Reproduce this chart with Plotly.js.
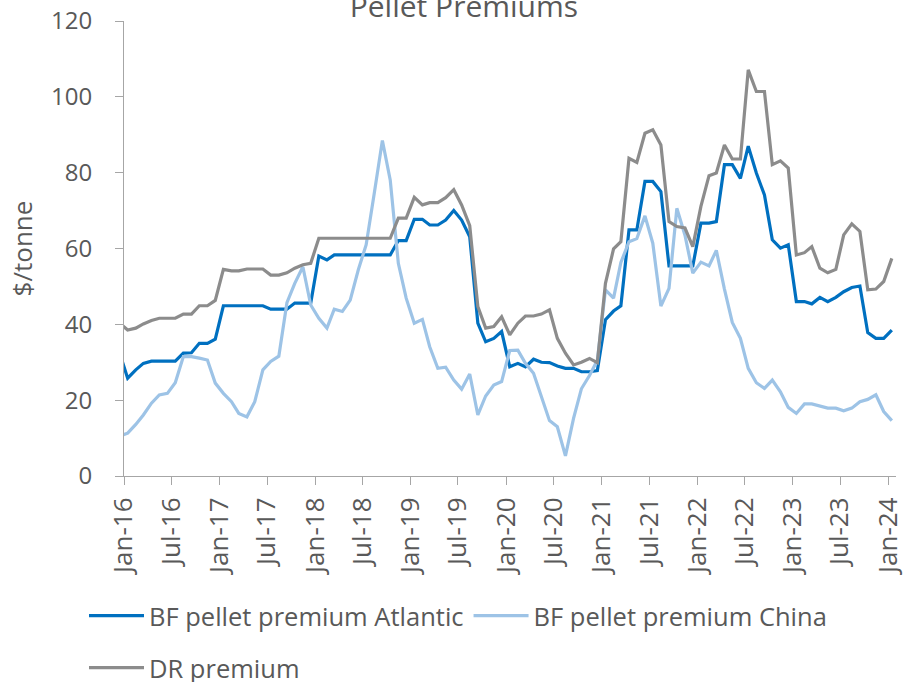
<!DOCTYPE html>
<html>
<head>
<meta charset="utf-8">
<script src="https://cdn.plot.ly/plotly-3.0.1.min.js"></script>
<style>
html,body{margin:0;padding:0;background:#fff;}
#chart{width:915px;height:682px;}
</style>
</head>
<body>
<div id="chart"></div>
<script>
// Monthly observations, first month Dec-2015 (clipped by the axis), last Jan-2024
var startYear = 2015, startMonth = 12;

var atlantic = [32.5,
  25.8,28.0,29.7,30.3,30.3,30.3,30.3,32.4,32.5,35.0,35.0,36.1,
  44.9,44.9,44.9,44.9,44.9,44.9,44.0,44.0,44.0,45.6,45.6,45.6,
  58.0,57.0,58.3,58.3,58.3,58.3,58.3,58.3,58.3,58.3,62.1,62.1,
  67.7,67.7,66.2,66.2,67.5,70.0,67.5,63.1,40.3,35.4,36.3,38.1,
  28.8,29.7,28.8,30.8,30.0,29.9,29.0,28.4,28.4,27.5,27.5,27.8,
  41.2,43.5,44.9,64.9,64.9,77.7,77.7,75.0,55.4,55.4,55.4,55.4,
  66.7,66.7,67.1,82.1,82.1,78.5,87.0,79.9,74.1,62.3,60.1,61.0,
  46.0,46.0,45.4,47.1,46.0,47.1,48.6,49.7,50.1,37.8,36.3,36.3,38.5];

var china = [10.5,
  11.3,13.6,16.1,19.2,21.4,21.8,24.6,31.5,31.5,31.1,30.6,24.5,
  21.8,19.6,16.5,15.6,19.6,28.0,30.2,31.6,45.7,50.8,55.2,45.1,
  41.6,39.0,44.0,43.4,46.4,54.4,61.0,74.6,88.5,78.1,56.1,46.9,
  40.3,41.3,34.1,28.4,28.7,25.3,22.9,26.9,16.1,21.1,24.0,24.9,
  33.1,33.2,29.7,27.1,20.9,14.6,13.0,5.3,15.2,23.0,26.5,30.5,
  49.1,46.9,56.3,61.8,62.6,68.6,61.4,44.8,49.5,70.6,63.5,53.5,
  56.4,55.4,59.5,49.3,40.5,36.3,28.4,24.6,23.1,25.3,22.2,18.1,
  16.5,19.0,19.0,18.5,17.9,17.9,17.2,17.9,19.6,20.2,21.4,17.0,14.6];

var drPremium = [40.4,
  38.5,39.0,40.1,41.0,41.6,41.6,41.6,42.7,42.7,44.9,44.9,46.3,
  54.5,54.1,54.1,54.6,54.6,54.6,53.0,53.0,53.6,54.8,55.7,56.1,
  62.7,62.7,62.7,62.7,62.7,62.7,62.7,62.7,62.7,62.7,68.0,68.0,
  73.5,71.5,72.1,72.1,73.4,75.5,71.5,66.0,44.7,39.0,39.4,42.0,
  37.2,40.3,42.2,42.2,42.7,43.8,36.3,32.4,29.3,30.0,31.0,29.9,
  50.8,59.9,61.8,83.8,82.7,90.4,91.3,87.3,67.1,65.8,65.4,60.5,
  71.1,79.2,79.9,87.3,83.6,83.6,107.1,101.4,101.4,82.1,83.1,81.2,
  58.3,58.9,60.5,54.8,53.6,54.5,63.6,66.5,64.5,49.1,49.3,51.3,57.4];

var seriesNames = ['BF pellet premium Atlantic', 'BF pellet premium China', 'DR premium'];
var titleText = 'Pellet Premiums';
var yTitle = '$/tonne';

function monthDates(n) {
  var out = [];
  for (var i = 0; i < n; i++) {
    var m0 = (startMonth - 1) + i;
    var y = startYear + Math.floor(m0 / 12);
    var m = (m0 % 12) + 1;
    out.push(y + '-' + (m < 10 ? '0' + m : m) + '-15');
  }
  return out;
}
var nPts = Math.max(atlantic.length, china.length, drPremium.length);
var dates = monthDates(nPts);

var txt = '#595959';
var axisCol = '#A6A6A6';
var FONT = 'Open Sans, Noto Sans, sans-serif';

var traces = [
  {x: dates, y: atlantic, name: seriesNames[0], type: 'scatter', mode: 'lines',
   line: {color: '#0070C0', width: 3.2}, legend: 'legend'},
  {x: dates, y: china, name: seriesNames[1], type: 'scatter', mode: 'lines',
   line: {color: '#9DC3E6', width: 3.2}, legend: 'legend'},
  {x: dates, y: drPremium, name: seriesNames[2], type: 'scatter', mode: 'lines',
   line: {color: '#8C8C8C', width: 3.2}, legend: 'legend2'}
];

var layout = {
  width: 915, height: 682,
  paper_bgcolor: '#fff', plot_bgcolor: '#fff',
  margin: {l: 124, r: 19, t: 21, b: 206, pad: 0},
  font: {family: FONT, color: txt},
  title: {text: titleText, font: {family: FONT, size: 30, color: txt},
          x: 0.507, xanchor: 'center', xref: 'container',
          y: 0.9905, yanchor: 'middle', yref: 'container'},
  xaxis: {
    type: 'date', range: ['2016-01-01', '2024-01-31'],
    tickmode: 'linear', tick0: '2016-01-01', dtick: 'M6', tickformat: '%b-%y',
    tickangle: -90, tickfont: {family: FONT, size: 26, color: txt},
    ticks: 'outside', ticklen: 8, tickcolor: axisCol, tickwidth: 1,
    showline: true, linecolor: axisCol, linewidth: 1,
    showgrid: false, zeroline: false, ticklabelstandoff: 2
  },
  yaxis: {
    range: [0, 120], tickmode: 'linear', tick0: 0, dtick: 20,
    tickfont: {family: FONT, size: 24, color: txt},
    ticks: 'outside', ticklen: 8, tickcolor: axisCol, tickwidth: 1,
    showline: true, linecolor: axisCol, linewidth: 1,
    showgrid: false, zeroline: false, ticklabelstandoff: 18,
    title: {text: yTitle, font: {family: FONT, size: 26, color: txt}, standoff: 10}
  },
  legend: {
    orientation: 'h', x: 84 / 915, xanchor: 'left', xref: 'container',
    y: 1 - 616 / 682, yanchor: 'middle', yref: 'container',
    font: {family: FONT, size: 25.5, color: txt}, itemwidth: 55,
    bgcolor: 'rgba(0,0,0,0)', tracegroupgap: 0, traceorder: 'normal'
  },
  legend2: {
    orientation: 'h', x: 84 / 915, xanchor: 'left', xref: 'container',
    y: 1 - 668 / 682, yanchor: 'middle', yref: 'container',
    font: {family: FONT, size: 25.5, color: txt}, itemwidth: 55,
    bgcolor: 'rgba(0,0,0,0)'
  },
  showlegend: true
};

Plotly.newPlot('chart', traces, layout, {displayModeBar: false, staticPlot: true});
</script>
</body>
</html>
